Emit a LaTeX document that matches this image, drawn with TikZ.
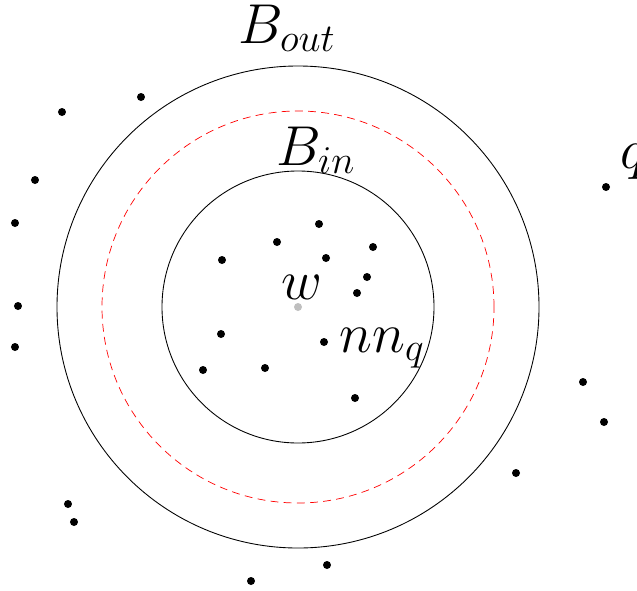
\documentclass[tikz,border=0pt]{standalone}
\usepackage{fix-cm}
\usepackage{tikz}
\usetikzlibrary{positioning}
\tikzset{
  pt/.style={fill=black},
  lbl/.style={anchor=base west, inner sep=0pt, font=\fontsize{32}{38}\selectfont}
}

\begin{document}
\begin{tikzpicture}
    \useasboundingbox (-5.96,-5.66) rectangle (6.78,6.14);

    % Balls around w
    \draw[line width=0.5pt] (0,0) circle (4.82);
    \draw[red, dash pattern=on 4.5pt off 3pt] (0,0) circle (3.92);
    \draw[line width=0.5pt] (0,0) circle (2.72);

    % Points outside B_in
    \foreach \x/\y in {-4.72/3.90, -3.14/4.20, -5.26/2.54, -5.66/1.68, -5.60/0.02,
                       -5.66/-0.80, -4.60/-3.94, -4.48/-4.30, -0.94/-5.48, 0.58/-5.16,
                       4.36/-3.32, 6.12/-2.30, 5.70/-1.50, 6.16/2.40} {
        \fill[pt] (\x,\y) circle (0.08);
    }

    % Points inside B_in
    \foreach \x/\y in {0.42/1.66, -0.42/1.30, -1.52/0.94, 0.56/0.98, 1.50/1.20,
                       1.38/0.60, 1.18/0.28, -1.54/-0.54, 0.52/-0.70, -1.90/-1.26,
                       -0.66/-1.22, 1.14/-1.82} {
        \fill[pt] (\x,\y) circle (0.08);
    }

    % Center w
    \fill[gray!50] (0,0) circle (0.08);

    % Labels
    \node[lbl] (bout) at (-1.20,5.28) {$B_{out}$};
    \node[lbl] (bin) at (-0.44,2.84) {$B_{in}$};
    \node[lbl] (w) at (-0.34,0.16) {$w$};
    \node[lbl] (nnq) at (0.82,-0.90) {$nn_q$};
    \node[lbl] (q) at (6.44,2.78) {$q$};

\end{tikzpicture}
\end{document}
